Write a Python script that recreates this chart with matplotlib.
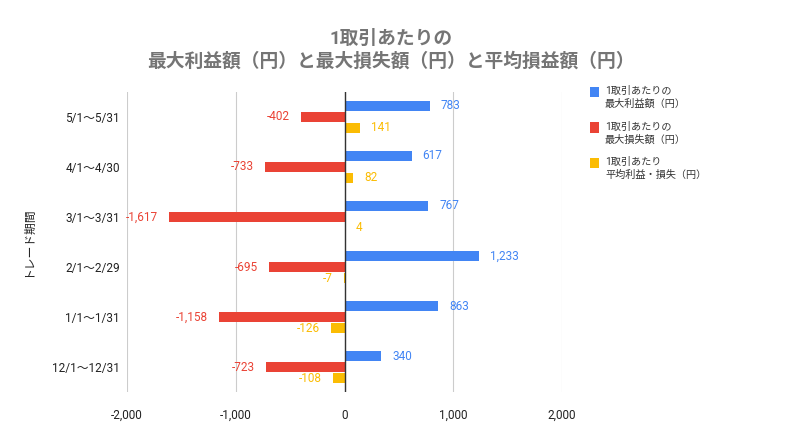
import numpy as np
import matplotlib.pyplot as plt
from matplotlib.patches import Rectangle

plt.rcParams['font.family'] = ['Roboto', 'Noto Sans CJK JP', 'DejaVu Sans']

# data (top to bottom)
periods = ['5/1～5/31', '4/1～4/30', '3/1～3/31', '2/1～2/29', '1/1～1/31', '12/1～12/31']
max_profit = [783, 617, 767, 1233, 863, 340]
max_loss = [-402, -733, -1617, -695, -1158, -723]
avg_pl = [141, 82, 4, -7, -126, -108]

series_names = ['1取引あたりの\n最大利益額（円）', '1取引あたりの\n最大損失額（円）', '1取引あたり\n平均利益・損失（円）']
colors = ['#4285F4', '#EA4335', '#FBBC04']

W, H = 786, 442
fig = plt.figure(figsize=(W / 100, H / 100), dpi=100)
ax = fig.add_axes([0.1616, 0.113, 0.5534, 0.679])

y = np.arange(len(periods))
h = 0.21
offsets = [-0.22, 0.0, 0.22]

for vals, off, c, name in zip([max_profit, max_loss, avg_pl], offsets, colors, series_names):
    ax.barh(y + off, vals, height=h, color=c, label=name, zorder=3)
    for yi, v in zip(y, vals):
        dx = 8 if v >= 0 else -8
        ax.annotate(f'{v:,}', (v, yi + off), xytext=(dx, 0), textcoords='offset points',
                    ha='left' if v >= 0 else 'right', va='center', color=c, fontsize=8.5)

ax.set_xlim(-2000, 2000)
ax.set_ylim(len(periods) - 0.5, -0.5)
ax.set_xticks([-2000, -1000, 0, 1000, 2000])
ax.set_xticklabels(['-2,000', '-1,000', '0', '1,000', '2,000'])
ax.set_yticks(y)
ax.set_yticklabels(periods)
ax.tick_params(axis='both', length=0, labelsize=8.5, colors='#222222')
ax.tick_params(axis='y', pad=5)
ax.tick_params(axis='x', pad=12)

ax.grid(axis='x', color='#cccccc', linewidth=0.8, zorder=0)
ax.axvline(0, color='#333333', linewidth=1, zorder=4)
for s in ax.spines.values():
    s.set_visible(False)

ax.set_ylabel('トレード期間', fontsize=8.5, color='#222222', labelpad=13)

fig.text(0.498, 0.912, '1取引あたりの', ha='center', va='center', fontsize=13.5,
         fontweight='bold', color='#757575')
fig.text(0.498, 0.862, '最大利益額（円）と最大損失額（円）と平均損益額（円）', ha='center',
         va='center', fontsize=13.5, fontweight='bold', color='#757575')

# legend drawn by hand: square aligned with the first text line
for i, (c, name) in enumerate(zip(colors, series_names)):
    top = 87 + i * 35.5
    fig.patches.append(Rectangle((590 / W, 1 - (top + 10) / H), 9 / W, 10 / H,
                                 transform=fig.transFigure, facecolor=c, edgecolor='none'))
    fig.text(605 / W, 1 - (top - 1) / H, name, ha='left', va='top', fontsize=7.3,
             color='#333333', linespacing=1.35)

fig.savefig('out.png', dpi=100)
